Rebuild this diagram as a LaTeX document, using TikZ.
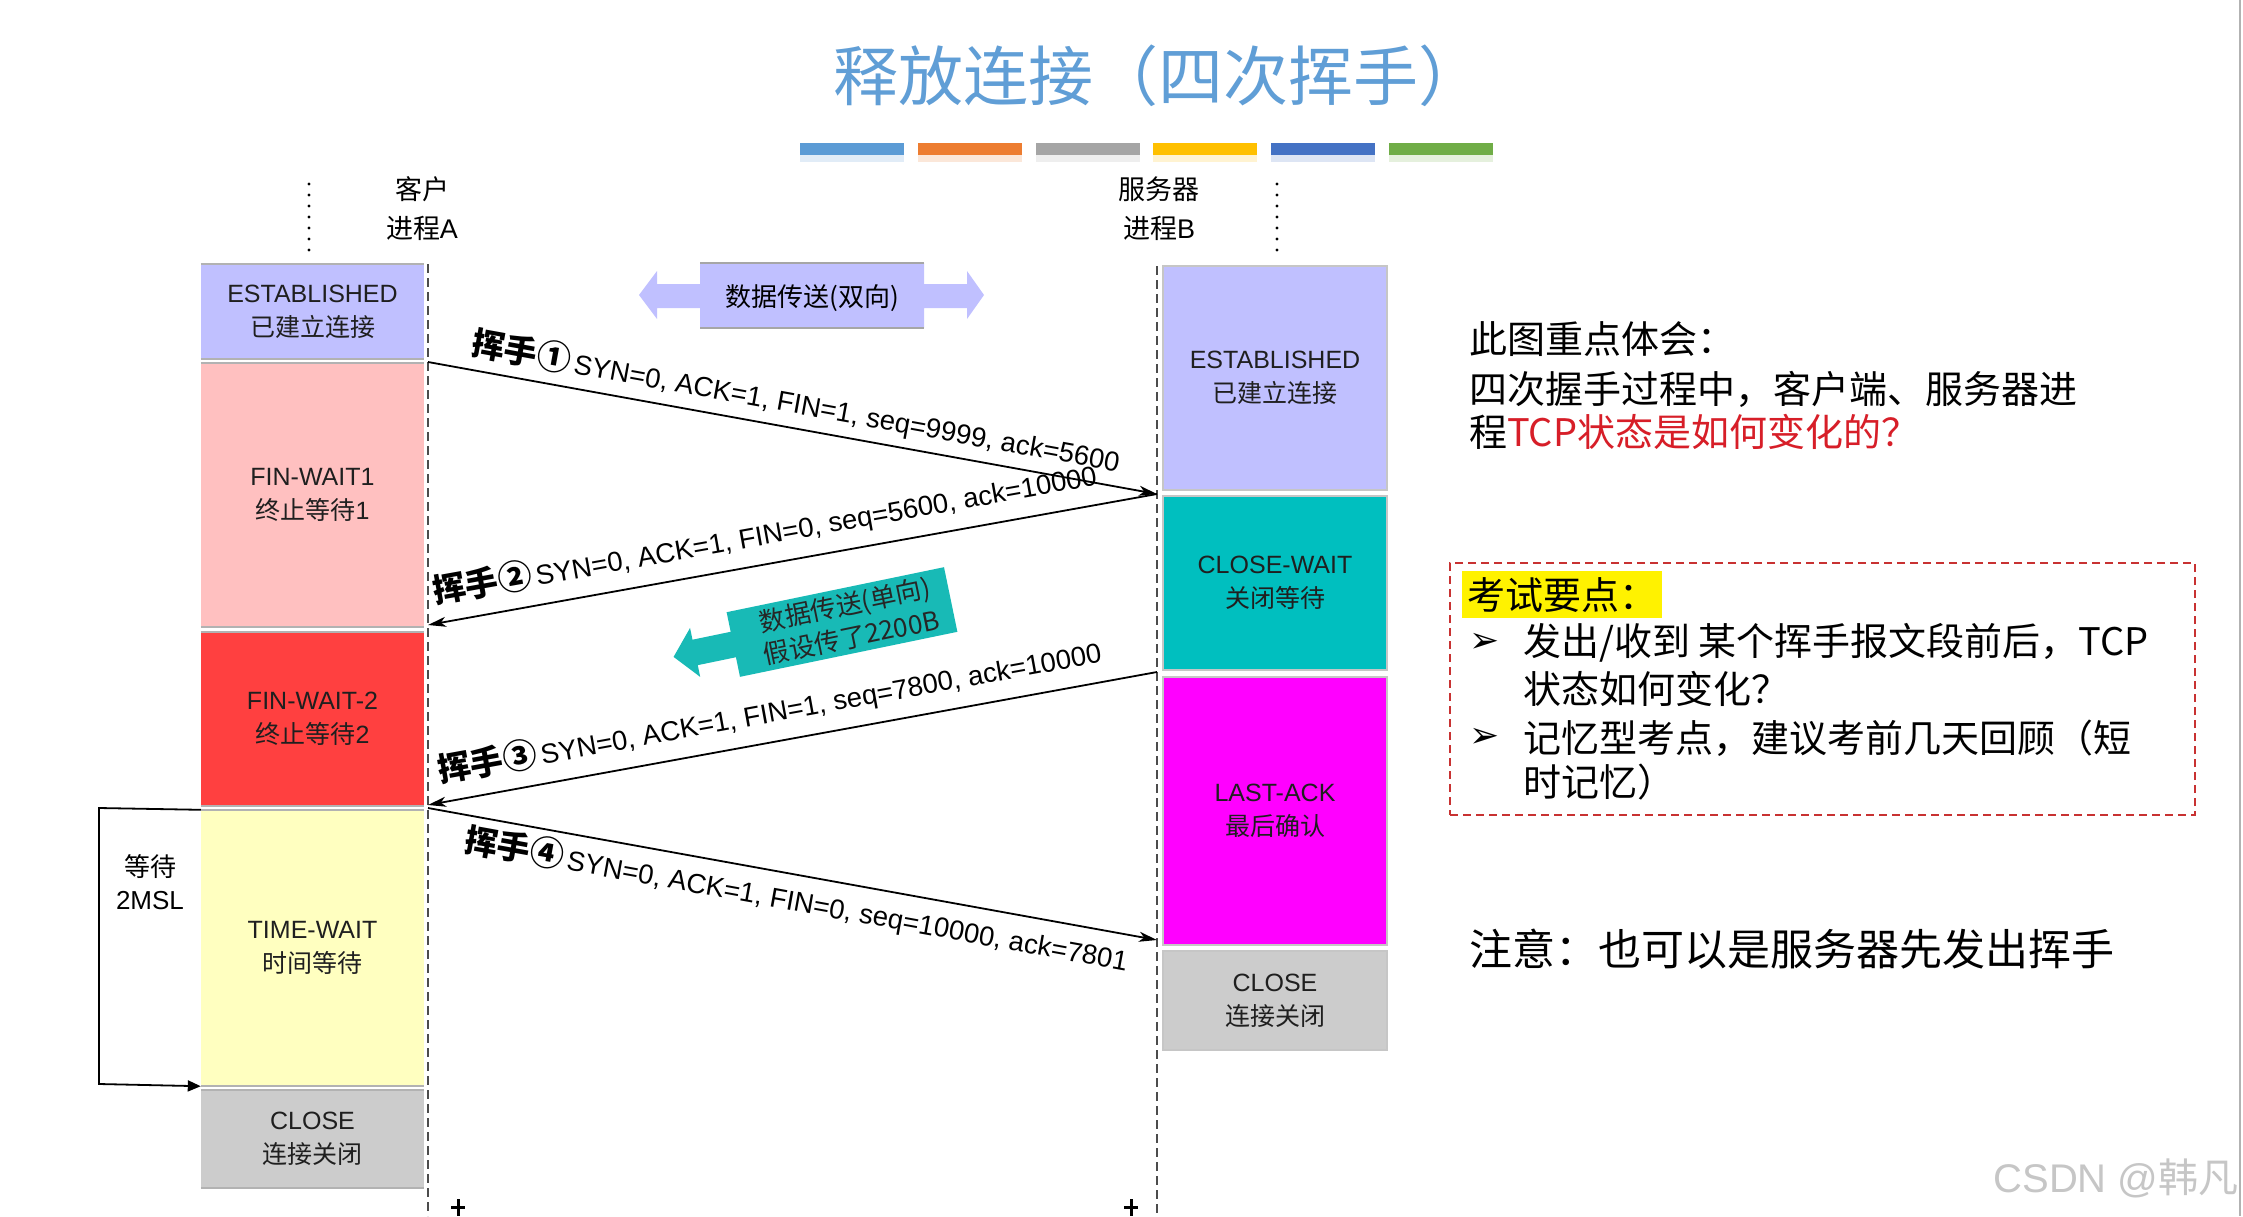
\documentclass[tikz,border=0pt]{standalone}
\usepackage{fontspec}
\setmainfont{Liberation Sans}
\newfontfamily\cjk{Noto Sans CJK SC}
\newfontfamily\symf{DejaVu Sans}
\usetikzlibrary{arrows.meta}
\definecolor{lav}{RGB}{192,192,255}
\definecolor{pinkc}{RGB}{255,192,192}
\definecolor{redc}{RGB}{255,64,64}
\definecolor{yelc}{RGB}{255,255,192}
\definecolor{grayc}{RGB}{204,204,204}
\definecolor{tealc}{RGB}{0,191,191}
\definecolor{tealarrow}{RGB}{24,186,182}
\definecolor{magc}{RGB}{255,0,255}
\definecolor{titleblue}{RGB}{96,158,214}
\definecolor{redtext}{RGB}{215,30,40}
\definecolor{boxred}{RGB}{200,50,50}
\definecolor{barA}{RGB}{91,155,213}
\definecolor{barB}{RGB}{237,125,49}
\definecolor{barC}{RGB}{165,165,165}
\definecolor{barD}{RGB}{255,192,0}
\definecolor{barE}{RGB}{68,114,196}
\definecolor{barF}{RGB}{112,173,71}
\newcommand\myfs[2]{\fontsize{#1pt}{#2pt}\selectfont}
\newcommand\wave[1]{{\cjk\bfseries\myfs{33}{33}挥手{\myfs{34}{34}#1}}\hspace{4pt}}
\tikzset{
  lstate/.style={minimum width=223pt, inner sep=0pt, align=center, font=\myfs{25}{34}, text=black!88},
  rstate/.style={minimum width=224pt, inner sep=0pt, align=center, font=\myfs{25}{34}, text=black!88, draw=gray!45, line width=1.5pt},
  sepline/.style={draw=gray!60, line width=2.5pt},
  timeline/.style={draw=black!70, line width=1.6pt, dash pattern=on 9pt off 5pt},
  msg/.style={draw=black, line width=1.8pt, -{Stealth[length=18pt,width=10pt,inset=5pt]}},
  msglabel/.style={inner sep=0pt, anchor=base west, font=\myfs{27.5}{27.5}},
  dotline/.style={line width=3.2pt, line cap=round, dash pattern=on 0pt off 11pt},
  sidetext/.style={anchor=west, inner sep=0pt, font=\cjk\myfs{38}{38}},
  bullet/.style={font=\symf\myfs{36}{36}, inner sep=0pt}
}
\begin{document}
\begin{tikzpicture}[x=1pt, y=-1pt]
\useasboundingbox (0,0) rectangle (2243,1216);
\fill[white] (0,0) rectangle (2243,1216);

% title and bars
\node[font=\cjk\myfs{65}{65}, text=titleblue, inner sep=0pt] (title) at (1158,76) {释放连接（四次挥手）};
\foreach \c [count=\i from 0] in {barA,barB,barC,barD,barE,barF} {
  \fill[\c] (800+117.8*\i,143) rectangle ++(104,12);
  \fill[\c, opacity=0.18] (800+117.8*\i,155) rectangle ++(104,7);
}

% process headers
\node[align=center, font=\myfs{27}{39}, inner sep=0pt] (cli) at (422,209) {{\cjk 客户}\\{\cjk 进程}A};
\node[align=center, font=\myfs{27}{39}, inner sep=0pt] (srv) at (1159,209) {{\cjk 服务器}\\{\cjk 进程}B};
\coordinate (ldA) at (309,184);
\coordinate (ldB) at (309,256);
\coordinate (rdA) at (1277,184);
\coordinate (rdB) at (1277,256);
\draw[dotline] (ldA) -- (ldB);
\draw[dotline] (rdA) -- (rdB);

% timelines
\coordinate (Ltop) at (428,264);
\coordinate (Lbot) at (428,1216);
\coordinate (Rtop) at (1157,266);
\coordinate (Rbot) at (1157,1216);
\draw[timeline] (Ltop) -- (Lbot);
\draw[timeline] (Rtop) -- (Rbot);

% left states
\node[lstate, fill=lav, minimum height=95pt] (lest) at (312.5,311.5) {ESTABLISHED\\{\cjk 已建立连接}};
\node[lstate, fill=pinkc, minimum height=264pt] (lfw1) at (312.5,495) {FIN-WAIT1\\{\cjk 终止等待}1};
\node[lstate, fill=redc, minimum height=174pt] (lfw2) at (312.5,719) {FIN-WAIT-2\\{\cjk 终止等待}2};
\node[lstate, fill=yelc, minimum height=276pt] (ltw) at (312.5,948) {TIME-WAIT\\{\cjk 时间等待}};
\node[lstate, fill=grayc, minimum height=98pt] (lcl) at (312.5,1139) {CLOSE\\{\cjk 连接关闭}};
\foreach \n in {lest,lfw1,lfw2,ltw,lcl} {
  \draw[sepline] (\n.north west) -- (\n.north east);
  \draw[sepline] (\n.south west) -- (\n.south east);
}

% right states
\node[rstate, fill=lav, minimum height=224pt] (rest) at (1275,378) {ESTABLISHED\\{\cjk 已建立连接}};
\node[rstate, fill=tealc, minimum height=174pt] (rcw) at (1275,583) {CLOSE-WAIT\\{\cjk 关闭等待}};
\node[rstate, fill=magc, minimum height=268pt] (rla) at (1275,811) {LAST-ACK\\{\cjk 最后确认}};
\node[rstate, fill=grayc, minimum height=99pt] (rcl) at (1275,1000.5) {CLOSE\\{\cjk 连接关闭}};

% bidirectional data arrow
\fill[lav] (639,295) -- (657,271) -- (657,284) -- (700,284) -- (700,263) -- (924,263) -- (924,284) -- (967,284) -- (967,271) -- (984,295) -- (967,319) -- (967,308) -- (924,308) -- (924,328) -- (700,328) -- (700,308) -- (657,308) -- (657,319) -- cycle;
\draw[gray!70, line width=1.5pt] (700,263) -- (924,263) (700,328) -- (924,328);
\node[font=\cjk\myfs{26}{26}, inner sep=0pt] (bidir) at (812,298) {数据传送(双向)};

% unidirectional data arrow
\begin{scope}[shift={(842,622)}, rotate=11.7]
  \fill[tealarrow] (-172,0) -- (-150,-25) -- (-150,-13) -- (-111,-13) -- (-111,-33) -- (111,-33) -- (111,33) -- (-111,33) -- (-111,13) -- (-150,13) -- (-150,25) -- cycle;
\end{scope}
\node[rotate=11.7, align=center, font=\cjk\myfs{26}{33}, text=black!85, inner sep=0pt] (unidir) at (848,621) {数据传送(单向)\\假设传了2200B};

% messages
\coordinate (h1s) at (428,362);
\coordinate (h1e) at (1157,494);
\coordinate (h2s) at (1157,494);
\coordinate (h2e) at (428,625);
\coordinate (h3s) at (1157,672);
\coordinate (h3e) at (428,805);
\coordinate (h4s) at (428,808);
\coordinate (h4e) at (1157,940);
\draw[msg] (h1s) -- (h1e);
\draw[msg] (h2s) -- (h2e);
\draw[msg] (h3s) -- (h3e);
\draw[msg] (h4s) -- (h4e);
\node[msglabel, rotate=-10.26] (m1) at (470,354.6) {\wave{①}SYN=0, ACK=1, FIN=1, seq=9999, ack=5600};
\node[msglabel, rotate=10.19] (m2) at (435,604) {\wave{②}SYN=0, ACK=1, FIN=0, seq=5600, ack=10000};
\node[msglabel, rotate=10.34] (m3) at (440,783) {\wave{③}SYN=0, ACK=1, FIN=1, seq=7800, ack=10000};
\node[msglabel, rotate=-10.26] (m4) at (463,851) {\wave{④}SYN=0, ACK=1, FIN=0, seq=10000, ack=7801};

% 2MSL bracket
\draw[line width=1.8pt, -{Triangle[length=13pt,width=11pt]}] (ltw.north west) -- (99,808) -- (99,1084) -- (ltw.south west);
\node[align=center, font=\myfs{26}{33}, inner sep=0pt] (msl) at (150,882) {{\cjk 等待}\\2MSL};

% bottom ticks
\draw[line width=3pt] (458,1199) -- (458,1216) (451,1207) -- (465,1207);
\draw[line width=3pt] (1131,1199) -- (1131,1216) (1124,1207) -- (1138,1207);

% right side notes
\node[sidetext] (n1) at (1469,339) {此图重点体会：};
\node[sidetext] (n2) at (1469,389) {四次握手过程中，客户端、服务器进};
\node[sidetext] (n3) at (1469,432) {程\textcolor{redtext}{TCP状态是如何变化的？}};

\node[draw=boxred, line width=2pt, dash pattern=on 8pt off 5pt, minimum width=745pt, minimum height=252pt, inner sep=0pt] (exam) at (1822.5,689) {};
\fill[yellow] (1462,571) rectangle (1662,618);
\node[sidetext] (examt) at (1467,595) {考试要点：};
\node[bullet] (b1) at (1485,643) {➢};
\node[sidetext] (e1) at (1523,643) {发出/收到 某个挥手报文段前后，TCP};
\node[sidetext] (e2) at (1523,689) {状态如何变化？};
\node[bullet] (b2) at (1485,738) {➢};
\node[sidetext] (e3) at (1523,738) {记忆型考点，建议考前几天回顾（短};
\node[sidetext] (e4) at (1523,782) {时记忆）};

\node[anchor=west, inner sep=0pt, font=\cjk\myfs{43}{43}] (note) at (1469,949) {注意：也可以是服务器先发出挥手};

% watermark and page edge
\node[inner sep=0pt, font=\myfs{40}{40}, text=gray!45] (wm) at (2116,1178) {CSDN @{\cjk 韩凡}};
\draw[gray!60, line width=2pt] (2240,0) -- (2240,1216);
\end{tikzpicture}
\end{document}
